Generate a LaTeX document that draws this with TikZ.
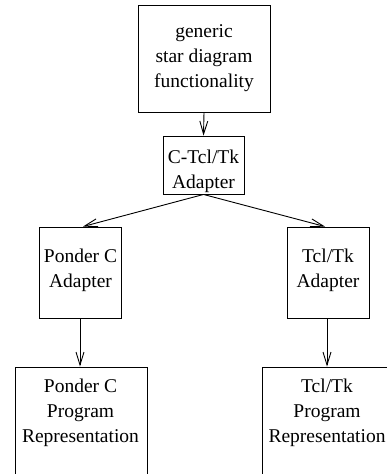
\documentclass[tikz,border=0pt]{standalone}
\usepackage{fontspec}
\setmainfont{Liberation Serif}
\newfontfamily\boxfont{Liberation Serif}
\usetikzlibrary{arrows.meta}
\newcommand\linestack[1]{\begin{tabular}[t]{@{}c@{}}#1\end{tabular}}
\begin{document}
\begin{tikzpicture}[x=1pt,y=-1pt,
  box/.style={draw, line width=0.9pt, rectangle, inner sep=0pt},
  lbl/.style={inner sep=0pt, anchor=base, font=\boxfont\fontsize{19.5}{25}\selectfont},
  link/.style={line width=0.9pt, -{Straight Barb[length=13pt,width=8pt,line width=0.9pt]}}]
\useasboundingbox[fill=white] (0,0) rectangle (387,474);
\clip (0,0) rectangle (387,474);

% boxes
\node[box, minimum width=132pt, minimum height=107pt] (core) at (204,58.5) {};
\node[box, minimum width=81pt,  minimum height=58pt]  (ctk)  at (203.5,165) {};
\node[box, minimum width=82pt,  minimum height=91pt]  (pca)  at (80,272.5) {};
\node[box, minimum width=82pt,  minimum height=91pt]  (tka)  at (328,272.5) {};
\node[box, minimum width=132pt, minimum height=133pt] (pcp)  at (81,433.5) {};
\node[box, minimum width=130pt, minimum height=133pt] (tkp)  at (327,433.5) {};

% labels
\node[lbl] (coret) at (204,37)   {\linestack{generic\\star diagram\\functionality}};
\node[lbl] (ctkt)  at (203.5,163) {\linestack{C-Tcl/Tk\\Adapter}};
\node[lbl] (pcat)  at (80.5,262) {\linestack{Ponder C\\Adapter}};
\node[lbl] (tkat)  at (328,262)  {\linestack{Tcl/Tk\\Adapter}};
\node[lbl] (pcpt)  at (80.5,392) {\linestack{Ponder C\\Program\\Representation}};
\node[lbl] (tkpt)  at (327,392)  {\linestack{Tcl/Tk\\Program\\Representation}};

% connectors
\draw[link] (core.south) -- (ctk.north);
\draw[link] (ctk.south) -- ([xshift=3pt]pca.north);
\draw[link] (ctk.south) -- ([xshift=-3pt]tka.north);
\draw[link] (pca.south) -- (pcp.north -| pca.south);
\draw[link] ([xshift=-1pt]tka.south) -- (tkp.north -| tkp.north);
\end{tikzpicture}
\end{document}
